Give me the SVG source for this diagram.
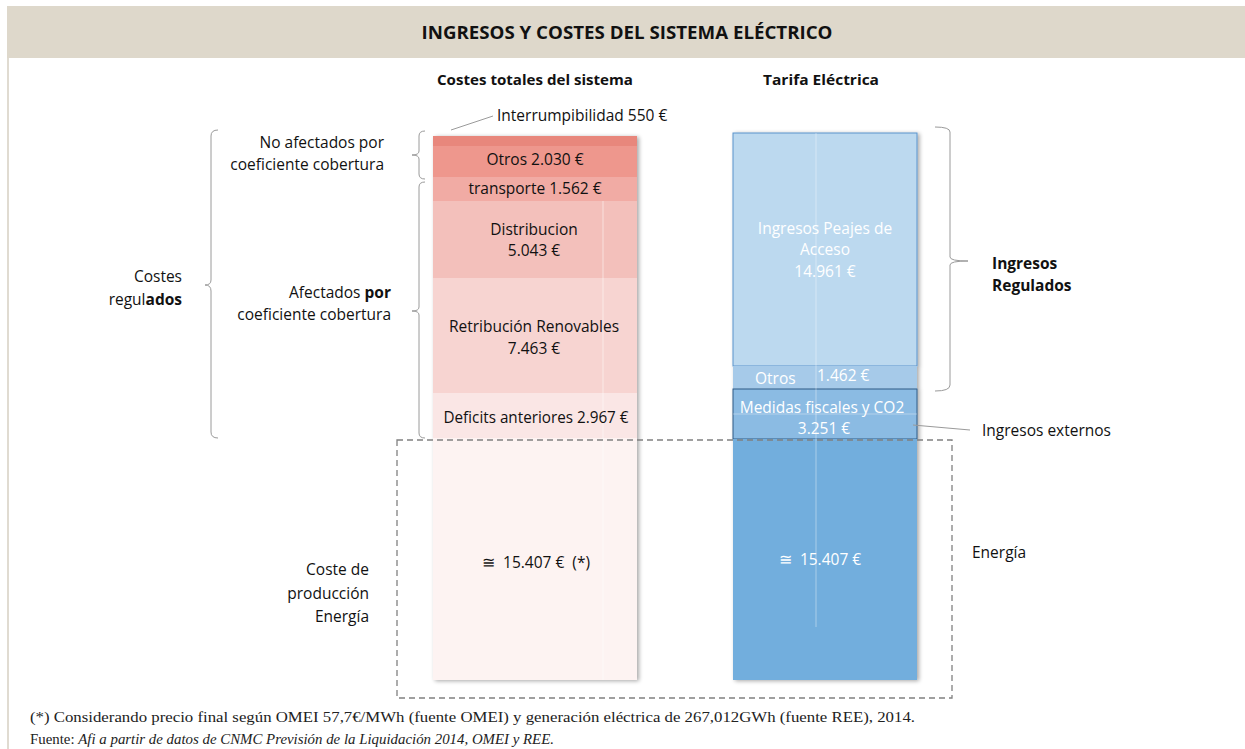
<svg xmlns="http://www.w3.org/2000/svg" width="1245" height="749" viewBox="0 0 1245 749">
<defs>
<style>
.t{font-family:"Open Sans","Liberation Sans",sans-serif;font-size:15.5px;fill:#111111}
.b{font-weight:bold}
.w{fill:#ffffff}
.c{text-anchor:middle}
.r{text-anchor:end}
.br{fill:none;stroke:#9a9a9a;stroke-width:1}
.ft{font-family:"Liberation Serif",serif;font-size:14px;fill:#222}
</style>
<filter id="sh" x="-5%" y="-2%" width="115%" height="104%">
<feGaussianBlur in="SourceAlpha" stdDeviation="2"/>
<feOffset dx="2" dy="1"/>
<feComponentTransfer><feFuncA type="linear" slope="0.35"/></feComponentTransfer>
<feMerge><feMergeNode/><feMergeNode in="SourceGraphic"/></feMerge>
</filter>
</defs>
<rect x="0" y="0" width="1245" height="749" fill="#ffffff"/>
<g id="header">
<rect x="7" y="6" width="1238" height="52" fill="#ded8cb"/>
<line x1="8" y1="58" x2="8" y2="749" stroke="#d6cfc2" stroke-width="1.5"/>
<text x="627" y="39" class="t b c" style="font-size:18px" textLength="411" lengthAdjust="spacingAndGlyphs">INGRESOS Y COSTES DEL SISTEMA ELÉCTRICO</text>
</g>
<g id="col-titles">
<text x="535" y="85" class="t b c" style="font-size:14px" textLength="196" lengthAdjust="spacingAndGlyphs">Costes totales del sistema</text>
<text x="821" y="85" class="t b c" style="font-size:14px" textLength="116" lengthAdjust="spacingAndGlyphs">Tarifa Eléctrica</text>
</g>
<g id="costes-bar" filter="url(#sh)">
<rect x="433" y="136" width="204" height="10" fill="#e8877c"/>
<rect x="433" y="146" width="204" height="31" fill="#ee978d"/>
<rect x="433" y="177" width="204" height="24" fill="#f1aba4"/>
<rect x="433" y="201" width="204" height="77" fill="#f3c0bb"/>
<rect x="433" y="278" width="204" height="115" fill="#f7d4d1"/>
<rect x="433" y="393" width="204" height="45" fill="#fae6e5"/>
<rect x="433" y="438" width="204" height="242" fill="#fdf3f2"/>
<line x1="603" y1="201" x2="603" y2="680" stroke="#ffffff" stroke-opacity="0.5" stroke-width="1"/>
</g>
<g id="costes-labels">
<text x="535" y="165" class="t c">Otros 2.030 €</text>
<text x="535" y="194" class="t c">transporte 1.562 €</text>
<text x="534" y="235" class="t c">Distribucion</text>
<text x="534" y="256" class="t c">5.043 €</text>
<text x="534" y="332" class="t c">Retribución Renovables</text>
<text x="534" y="354" class="t c">7.463 €</text>
<text x="536" y="423" class="t c" textLength="185" lengthAdjust="spacingAndGlyphs">Deficits anteriores 2.967 €</text>
<text x="536" y="568" class="t c" xml:space="preserve">≅  15.407 €  (*)</text>
</g>
<g id="tarifa-bar" filter="url(#sh)">
<rect x="733" y="133" width="184" height="233" fill="#bcd9ef" stroke="#5b93cc" stroke-width="1"/>
<rect x="733" y="366" width="184" height="23" fill="#a6cae9"/>
<rect x="733" y="389" width="184" height="50" fill="#8bbbe3" stroke="#2f5a86" stroke-width="1"/>
<rect x="733" y="439" width="184" height="241" fill="#72aedd"/>
<line x1="816" y1="133" x2="816" y2="627" stroke="#ffffff" stroke-opacity="0.4" stroke-width="1"/>
<line x1="733" y1="414" x2="917" y2="414" stroke="#ffffff" stroke-opacity="0.35" stroke-width="1"/>
</g>
<g id="tarifa-labels">
<text x="825" y="234" class="t c w">Ingresos Peajes de</text>
<text x="825" y="255" class="t c w">Acceso</text>
<text x="825" y="277" class="t c w">14.961 €</text>
<text x="755" y="384" class="t w">Otros</text>
<text x="817" y="381" class="t w">1.462 €</text>
<text x="822" y="413" class="t c w">Medidas fiscales y CO2</text>
<text x="824" y="434" class="t c w">3.251 €</text>
<text x="820" y="565" class="t c w" xml:space="preserve">≅  15.407 €</text>
</g>
<g id="side-labels">
<text x="384" y="148" class="t r">No afectados por</text>
<text x="384" y="170" class="t r">coeficiente cobertura</text>
<text x="391" y="298" class="t r">Afectados <tspan class="b">por</tspan></text>
<text x="391" y="320" class="t r">coeficiente cobertura</text>
<text x="182" y="282" class="t r">Costes</text>
<text x="182" y="305" class="t r">regul<tspan class="b">ados</tspan></text>
<text x="369" y="575" class="t r">Coste de</text>
<text x="369" y="599" class="t r">producción</text>
<text x="369" y="622" class="t r">Energía</text>
<text x="497" y="121" class="t">Interrumpibilidad 550 €</text>
<text x="992" y="269" class="t b">Ingresos</text>
<text x="992" y="291" class="t b">Regulados</text>
<text x="982" y="436" class="t">Ingresos externos</text>
<text x="972" y="558" class="t">Energía</text>
</g>
<g id="connectors">
<path class="br" d="M218,130 Q211,130 211,136 L211,280 Q211,285 205,285 Q211,285 211,291 L211,432 Q211,438 218,438"/>
<path class="br" d="M425,131 Q419,131 419,136 L419,151 Q419,155 412,155 Q419,155 419,159 L419,174 Q419,179 425,179"/>
<path class="br" d="M425,182 Q419,182 419,187 L419,307 Q419,311 412,311 Q419,311 419,315 L419,433 Q419,438 425,438"/>
<path class="br" d="M935,127 Q950,127 950,132 L950,257 Q950,261 968,261 Q950,261 950,265 L950,385 Q950,391 935,391"/>
<line class="br" x1="451" y1="130" x2="493" y2="116"/>
<line class="br" x1="913" y1="425" x2="970" y2="430"/>
<rect x="397" y="440" width="555" height="258" fill="none" stroke="#808080" stroke-width="1.3" stroke-dasharray="6,4"/>
</g>
<g id="footnote">
<text x="30" y="722" class="ft" textLength="885" lengthAdjust="spacingAndGlyphs">(*) Considerando precio final según OMEI 57,7€/MWh (fuente OMEI) y generación eléctrica de 267,012GWh (fuente REE), 2014.</text>
<text x="30" y="744" class="ft" textLength="524" lengthAdjust="spacingAndGlyphs">Fuente: <tspan font-style="italic">Afi a partir de datos de CNMC Previsión de la Liquidación 2014, OMEI y REE.</tspan></text>
</g>
</svg>
